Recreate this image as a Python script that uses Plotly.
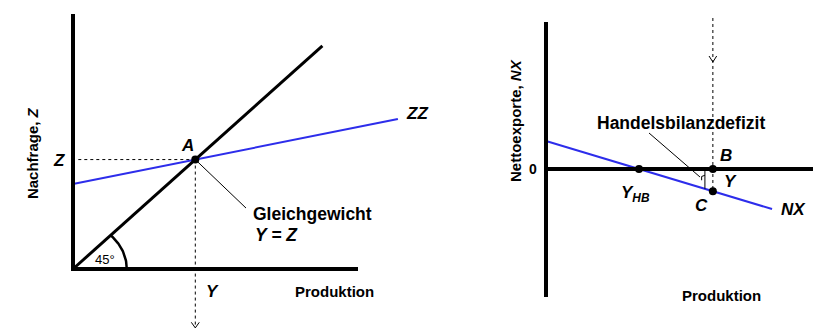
import math
import plotly.graph_objects as go

W, H = 821, 333
OFF = 8          # page body margin of the browser
BLUE = "rgb(45,45,235)"

# ---------- Left panel data (Nachfrage / Produktion) ----------
axis_len_left = 10.0
diag_end = 8.75                 # end of the 45-degree line
zz_x = [0.0, 11.4]              # ZZ line x range
zz_intercept = 3.33
zz_slope = 0.224
eq_y_star = zz_intercept / (1 - zz_slope)   # equilibrium Y = Z (point A)
dash_bottom_left = -2.31
leader_left_end = (6.07, 2.39)
arc_radius = 1.85

# ---------- Right panel data (Nettoexporte / Produktion) ----------
axis_top_right = 5.88
axis_bottom_right = -5.12
axis_len_right = 10.0
nx_x = [0.0, 8.25]
nx_intercept = 1.12
nx_slope = -0.33
y_hb = nx_intercept / -nx_slope              # trade balance output
y_right = 6.09                               # output Y (B / C)
dash_top_right = 6.04
arrow_y_right = 4.28
bracket_x = 5.80
leader_right = ([3.76, 5.62], [1.44, -0.32])

fig = go.Figure()

def line(x, y, xa, ya, color="black", width=1, dash=None):
    fig.add_trace(go.Scatter(x=x, y=y, mode="lines", xaxis=xa, yaxis=ya,
                             line=dict(color=color, width=width, dash=dash),
                             hoverinfo="skip", showlegend=False, cliponaxis=False))

def dots(x, y, xa, ya, size=8):
    fig.add_trace(go.Scatter(x=x, y=y, mode="markers", xaxis=xa, yaxis=ya,
                             marker=dict(color="black", size=size),
                             hoverinfo="skip", showlegend=False, cliponaxis=False))

# ---- left panel ----
zz_y = [zz_intercept + zz_slope * v for v in zz_x]
line([eq_y_star, 0.15], [eq_y_star, eq_y_star], "x", "y", dash="3px,3px")
line([eq_y_star, eq_y_star], [eq_y_star, dash_bottom_left], "x", "y", dash="3px,3px")
line([eq_y_star - 0.14, eq_y_star, eq_y_star + 0.14],
     [dash_bottom_left + 0.22, dash_bottom_left, dash_bottom_left + 0.22], "x", "y")
line(zz_x, zz_y, "x", "y", color=BLUE, width=2)
line([0, diag_end], [0, diag_end], "x", "y", width=3)
line([eq_y_star, leader_left_end[0]], [eq_y_star, leader_left_end[1]], "x", "y")
# 45 degree arc
ang = [i * 45 / 30 for i in range(31)]
line([arc_radius * 1.02 * math.cos(math.radians(a)) for a in ang],
     [arc_radius * math.sin(math.radians(a)) for a in ang], "x", "y", width=2.5)
line([0, 0, axis_len_left], [axis_len_left, 0, 0], "x", "y", width=4)
dots([eq_y_star], [eq_y_star], "x", "y", size=8)

# ---- right panel ----
nx_y = [nx_intercept + nx_slope * v for v in nx_x]
c_y = nx_intercept + nx_slope * y_right
br_y = nx_intercept + nx_slope * bracket_x
line([y_right, y_right], [dash_top_right, c_y], "x2", "y2", dash="3px,3px")
line([y_right - 0.14, y_right, y_right + 0.14],
     [arrow_y_right + 0.24, arrow_y_right, arrow_y_right + 0.24], "x2", "y2")
line(nx_x, nx_y, "x2", "y2", color=BLUE, width=2)
line([0, 0], [axis_top_right, axis_bottom_right], "x2", "y2", width=4)
line([0, axis_len_right], [0, 0], "x2", "y2", width=4)
line([bracket_x, bracket_x], [0, br_y], "x2", "y2", width=1)
line([bracket_x, bracket_x - 0.12, bracket_x - 0.12], [-0.25, -0.3, -0.45], "x2", "y2", width=1)
line(leader_right[0], leader_right[1], "x2", "y2", width=1)
dots([y_hb, y_right, y_right], [0, 0, c_y], "x2", "y2", size=8)

FONT = "Liberation Sans, Arial, sans-serif"

def txt(x, y, s, xa, ya, size=15, xanchor="center", angle=0, color="black"):
    fig.add_annotation(x=x, y=y, text=s, xref=xa, yref=ya, showarrow=False,
                       xanchor=xanchor, yanchor="middle", textangle=angle,
                       font=dict(family=FONT, size=size, color=color))

# left labels
txt(4.0, 4.86, "<b><i>A</i></b>", "x", "y", size=17)
txt(-0.22, 4.24, "<b><i>Z</i></b>", "x", "y", size=17, xanchor="right")
txt(11.62, 6.1, "<b><i>ZZ</i></b>", "x", "y", size=17, xanchor="left")
txt(6.25, 2.16, "<b>Gleichgewicht</b>", "x", "y", size=17.5, xanchor="left")
txt(6.3, 1.33, "<b><i>Y = Z</i></b>", "x", "y", size=17.5, xanchor="left")
txt(1.12, 0.39, "45°", "x", "y", size=13)
txt(4.91, -0.9, "<b><i>Y</i></b>", "x", "y", size=17)
txt(9.19, -0.9, "<b>Produktion</b>", "x", "y", size=15)
txt(-1.40, 4.55, "<b>Nachfrage, <i>Z</i></b>", "x", "y", size=15, angle=-90)

# right labels
txt(4.93, 1.84, "<b>Handelsbilanzdefizit</b>", "x2", "y2", size=17.5)
txt(6.57, 0.56, "<b><i>B</i></b>", "x2", "y2", size=17)
txt(6.72, -0.48, "<b><i>Y</i></b>", "x2", "y2", size=17)
txt(5.69, -1.44, "<b><i>C</i></b>", "x2", "y2", size=17)
txt(3.28, -1.0, "<b><i>Y<sub>HB</sub></i></b>", "x2", "y2", size=17)
txt(8.5, -1.6, "<b><i>NX</i></b>", "x2", "y2", size=17, xanchor="left")
txt(-0.47, 0.0, "<b>0</b>", "x2", "y2", size=14)
txt(-1.13, 1.92, "<b>Nettoexporte, <i>NX</i></b>", "x2", "y2", size=15, angle=-90)
txt(6.42, -5.04, "<b>Produktion</b>", "x2", "y2", size=15)

FW, FH = W - OFF, H - OFF
split = 420 - OFF
ax_common = dict(visible=False, showgrid=False, zeroline=False, fixedrange=True)
fig.update_layout(
    width=FW, height=FH, margin=dict(l=0, r=0, t=0, b=0),
    paper_bgcolor="white", plot_bgcolor="rgba(0,0,0,0)", showlegend=False,
    xaxis=dict(domain=[0, split / FW], range=[(OFF - 73) / 28.5, (420 - 73) / 28.5], **ax_common),
    yaxis=dict(domain=[0, 1], range=[-(H - 269) / 25.5, (269 - OFF) / 25.5], **ax_common),
    xaxis2=dict(domain=[split / FW, 1], range=[(420 - 546) / 27.4, (W - 546) / 27.4],
                anchor="y2", **ax_common),
    yaxis2=dict(domain=[0, 1], range=[-(H - 169) / 25.0, (169 - OFF) / 25.0], anchor="x2", **ax_common),
)

fig.write_html("out.html")
